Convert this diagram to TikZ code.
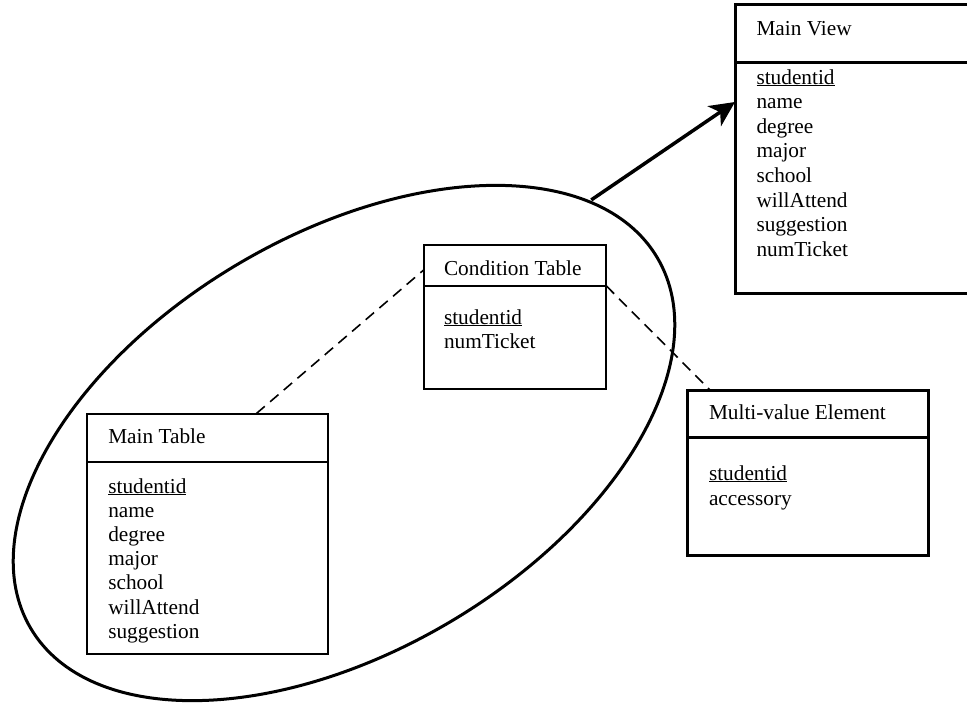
\documentclass[tikz,border=0pt]{standalone}
\usepackage{fontspec}
\setmainfont{Liberation Serif}
\usetikzlibrary{calc,shapes.geometric,arrows.meta}
\begin{document}
\begin{tikzpicture}[x=1pt,y=-1pt,
  box/.style={draw, rectangle, inner sep=0pt, outer sep=0pt, anchor=north west},
  heavy/.style={line width=3pt},
  light/.style={line width=2pt},
  txt/.style={inner sep=0pt, outer sep=0pt, anchor=base west, font=\fontsize{21.3}{24.5}\selectfont},
  link/.style={dash pattern=on 11pt off 7pt, line width=1.6pt},
  ]
\clip (0,0) rectangle (967,702);

% grouping ellipse
\node[ellipse, draw, line width=3pt, minimum width=728, minimum height=416,
      inner sep=0pt, outer sep=0pt, rotate=30.6] (ell) at (344,443) {};

% Main View
\node[box, heavy, minimum width=262, minimum height=289] (mv) at (735,4) {};
\draw[heavy] ($(mv.north west)+(0,58)$) -- ($(mv.north east)+(0,58)$);
\node[txt] (mvt) at ($(mv.north west)+(21.5,31)$) {Main View};
\foreach \f [count=\i from 0] in {\underline{studentid},name,degree,major,school,willAttend,suggestion,numTicket}
  \node[txt] (mvf\i) at ($(mv.north west)+(21.5,80+24.6*\i)$) {\f};

% Condition Table
\node[box, light, minimum width=182.4, minimum height=144] (ct) at (424,245) {};
\draw[light] ($(ct.north west)+(0,41)$) -- ($(ct.north east)+(0,41)$);
\node[txt] (ctt) at ($(ct.north west)+(20,30)$) {Condition Table};
\foreach \f [count=\i from 0] in {\underline{studentid},numTicket}
  \node[txt] (ctf\i) at ($(ct.north west)+(20,79)+(0,24.2*\i)$) {\f};

% Main Table
\node[box, light, minimum width=241, minimum height=240] (mt) at (87,413.5) {};
\draw[light] ($(mt.north west)+(0,48)$) -- ($(mt.north east)+(0,48)$);
\node[txt] (mtt) at ($(mt.north west)+(21.3,29.5)$) {Main Table};
\foreach \f [count=\i from 0] in {\underline{studentid},name,degree,major,school,willAttend,suggestion}
  \node[txt] (mtf\i) at ($(mt.north west)+(21.3,79.5)+(0,24.2*\i)$) {\f};

% Multi-value Element
\node[box, heavy, minimum width=241, minimum height=165] (me) at (687,390) {};
\draw[heavy] ($(me.north west)+(0,47)$) -- ($(me.north east)+(0,47)$);
\node[txt] (met) at ($(me.north west)+(22,29)$) {Multi-value Element};
\foreach \f [count=\i from 0] in {\underline{studentid},accessory}
  \node[txt] (mef\i) at ($(me.north west)+(22,90)+(0,25*\i)$) {\f};

% connectors
\draw[link] ($(mt.north west)!0.703!(mt.north east)$) -- ($(ct.north west)+(0,24.7)$);
\draw[link] ($(ct.north east)+(0,41)$) -- ($(me.north west)+(23,0)$);
\draw[line width=3.5pt, -{Stealth[length=25pt,width=24pt,inset=7pt]}, shorten <=3pt]
  (ell.14) -- ($(mv.north west)+(0,98)$);
\end{tikzpicture}
\end{document}
